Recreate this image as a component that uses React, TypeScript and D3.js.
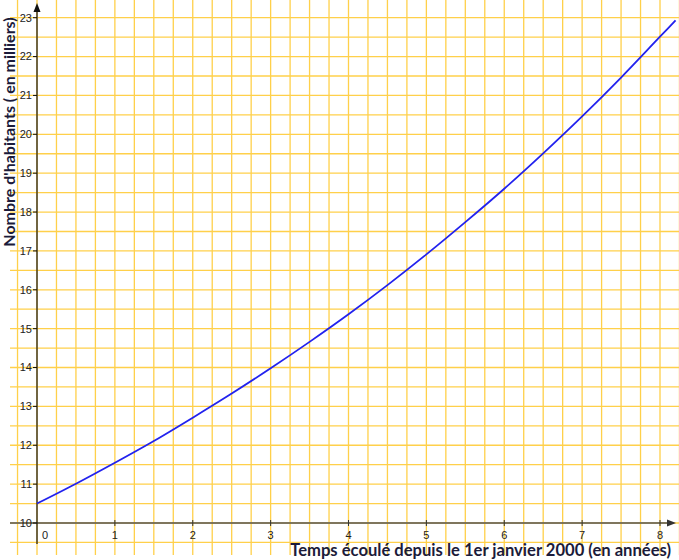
import React from "react";
import * as d3 from "d3";

const years = [0, 0.5, 1, 1.5, 2, 2.5, 3, 3.5, 4, 4.5, 5, 5.5, 6, 6.5, 7, 7.5, 8, 8.2];
const inhabitants = [10.5, 11.01, 11.55, 12.11, 12.71, 13.33, 13.98, 14.66, 15.37, 16.12, 16.91, 17.74, 18.6, 19.51, 20.46, 21.46, 22.51, 22.93];
const xTicks = [0, 1, 2, 3, 4, 5, 6, 7, 8];
const yTicks = [10, 11, 12, 13, 14, 15, 16, 17, 18, 19, 20, 21, 22, 23];
const xTitle = "Temps écoulé depuis le 1er janvier 2000 (en années)";
const yTitle = "Nombre d'habitants ( en milliers)";

const W = 679;
const H = 560;

export default function App() {
  const x = d3.scaleLinear().domain([0, 8]).range([37, 660]);
  const y = d3.scaleLinear().domain([10, 23]).range([523, 17.7]);

  const vGrid = d3.range(-0.25, 8.26, 0.25);
  const hGrid = d3.range(9.5, 23.01, 0.5);

  const line = d3
    .line<number>()
    .x((_, i) => x(years[i]))
    .y((d) => y(d))
    .curve(d3.curveMonotoneX);

  const gridColor = "#FFD04A";
  const navy = "#1b1b3a";

  return (
    <svg
      width={W}
      height={H}
      style={{ position: "absolute", left: 0, top: 0, background: "#fff" }}
    >
      <g>
        {vGrid.map((t, i) => (
          <line
            key={"v" + i}
            x1={x(t)}
            x2={x(t)}
            y1={0}
            y2={555}
            stroke={gridColor}
            strokeWidth={1.3}
          />
        ))}
        {hGrid.map((v, i) => (
          <line
            key={"h" + i}
            x1={10}
            x2={W}
            y1={y(v)}
            y2={y(v)}
            stroke={gridColor}
            strokeWidth={1.3}
          />
        ))}
      </g>
      {/* x axis */}
      <line x1={10} x2={670} y1={y(10)} y2={y(10)} stroke="#555" strokeWidth={1.3} />
      <path d={`M${676},${y(10)} L${667},${y(10) - 3.5} L${667},${y(10) + 3.5} Z`} fill="#333" />
      {/* y axis */}
      <line x1={x(0)} x2={x(0)} y1={10} y2={544} stroke="#111" strokeWidth={1.2} />
      <path d={`M${x(0)},${3} L${x(0) - 3.5},${12} L${x(0) + 3.5},${12} Z`} fill="#111" />
      {yTicks.map((v) => (
        <g key={"yt" + v}>
          <line x1={x(0) - 4} x2={x(0)} y1={y(v)} y2={y(v)} stroke="#111" strokeWidth={1} />
          <text
            x={x(0) - 5}
            y={y(v)}
            dy="0.35em"
            textAnchor="end"
            fontFamily="Liberation Sans, Arial, sans-serif"
            fontSize={11}
            fill="#222"
          >
            {v}
          </text>
        </g>
      ))}
      {xTicks.map((t) => (
        <g key={"xt" + t}>
          {t > 0 && (
            <line x1={x(t)} x2={x(t)} y1={y(10) - 3} y2={y(10) + 3} stroke="#333" strokeWidth={1} />
          )}
          <text
            x={t === 0 ? x(t) + 8 : x(t)}
            y={y(10) + 16}
            textAnchor="middle"
            fontFamily="Liberation Sans, Arial, sans-serif"
            fontSize={11}
            fill="#222"
          >
            {t}
          </text>
        </g>
      ))}
      <path d={line(inhabitants) || ""} fill="none" stroke="#2222ee" strokeWidth={1.8} />
      <text
        x={671}
        y={556}
        textAnchor="end"
        fontFamily="Lato, Open Sans, sans-serif"
        fontWeight="bold"
        fontSize={16.6}
        fill={navy}
      >
        {xTitle}
      </text>
      <text
        transform={`translate(15,${132}) rotate(-90)`}
        textAnchor="middle"
        fontFamily="Lato, Open Sans, sans-serif"
        fontWeight="bold"
        fontSize={16}
        fill={navy}
      >
        {yTitle}
      </text>
    </svg>
  );
}
